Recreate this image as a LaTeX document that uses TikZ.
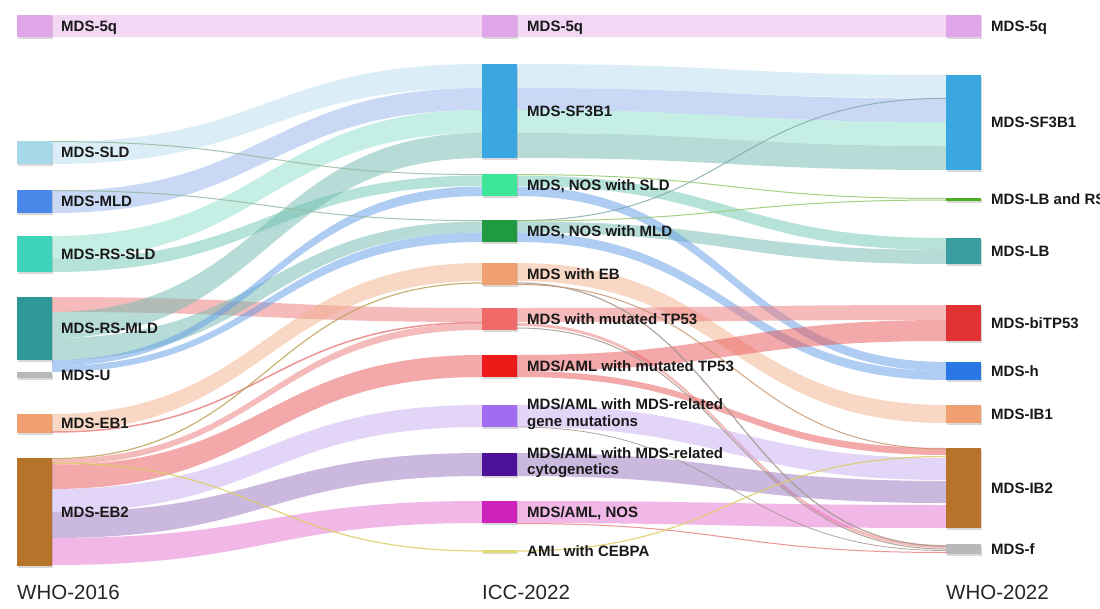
\documentclass[tikz,border=0pt]{standalone}
\usepackage{fontspec}
\setmainfont{Liberation Sans}
\usetikzlibrary{calc,shadows}
\pgfdeclarelayer{flows}
\pgfsetlayers{flows,main}
% flow colours (drawn at half opacity)
\definecolor{c5q}{RGB}{231,179,235}
\definecolor{csld}{RGB}{185,223,241}
\definecolor{cmld}{RGB}{147,179,237}
\definecolor{crss}{RGB}{141,223,203}
\definecolor{crsstwo}{RGB}{110,200,180}
\definecolor{cteal}{RGB}{113,187,177}
\definecolor{cblue}{RGB}{97,155,231}
\definecolor{cpink}{RGB}{237,121,121}
\definecolor{cred}{RGB}{233,85,85}
\definecolor{cpeach}{RGB}{243,179,141}
\definecolor{clav}{RGB}{199,173,241}
\definecolor{cpurp}{RGB}{151,115,193}
\definecolor{cpnos}{RGB}{229,113,209}
% thin line colours
\definecolor{clineone}{RGB}{150,185,160}
\definecolor{clinetwo}{RGB}{130,170,175}
\definecolor{cgreenline}{RGB}{150,200,110}
\definecolor{cgrayline}{RGB}{165,150,140}
\definecolor{cbrownline}{RGB}{200,150,110}
\definecolor{cpinkline}{RGB}{235,130,130}
\definecolor{colive}{RGB}{190,165,90}
\definecolor{cyel}{RGB}{220,205,100}
% node colours
\definecolor{n5q}{RGB}{224,164,232}
\definecolor{nsld}{RGB}{166,216,234}
\definecolor{nmld}{RGB}{74,136,234}
\definecolor{nrss}{RGB}{62,212,188}
\definecolor{nrsm}{RGB}{46,152,152}
\definecolor{ngray}{RGB}{184,184,184}
\definecolor{neb}{RGB}{240,160,112}
\definecolor{nbrown}{RGB}{184,115,42}
\definecolor{nsf}{RGB}{58,166,226}
\definecolor{nns}{RGB}{62,230,154}
\definecolor{nnm}{RGB}{31,154,64}
\definecolor{ntp}{RGB}{240,106,106}
\definecolor{natp}{RGB}{238,26,26}
\definecolor{ngene}{RGB}{160,108,240}
\definecolor{ncyto}{RGB}{78,18,154}
\definecolor{nnos}{RGB}{204,34,187}
\definecolor{nceb}{RGB}{224,220,112}
\definecolor{nlbrs}{RGB}{76,175,32}
\definecolor{nlb}{RGB}{58,158,160}
\definecolor{nbitp}{RGB}{224,50,50}
\definecolor{nh}{RGB}{42,120,230}

\newcommand\sankeyband[7]{%
  \fill[#7,fill opacity=.5] let \p1=(#1.north east),\p2=(#4.north west) in
    (\x1,{\y1-(#2)*1pt})
    .. controls ({0.5*\x1+0.5*\x2},{\y1-(#2)*1pt}) and ({0.5*\x1+0.5*\x2},{\y2-(#5)*1pt}) .. (\x2,{\y2-(#5)*1pt})
    -- (\x2,{\y2-(#6)*1pt})
    .. controls ({0.5*\x1+0.5*\x2},{\y2-(#6)*1pt}) and ({0.5*\x1+0.5*\x2},{\y1-(#3)*1pt}) .. (\x1,{\y1-(#3)*1pt})
    -- cycle;}
\newcommand\sankeyline[6]{%
  \draw[#5,line width=#6,draw opacity=.85] let \p1=(#1.north east),\p2=(#3.north west) in
    (\x1,{\y1-(#2)*1pt})
    .. controls ({0.5*\x1+0.5*\x2},{\y1-(#2)*1pt}) and ({0.5*\x1+0.5*\x2},{\y2-(#4)*1pt}) .. (\x2,{\y2-(#4)*1pt});}

\begin{document}
\begin{tikzpicture}[x=1pt,y=-1pt,
  bar/.style={anchor=north west,inner sep=0pt,outer sep=0pt,minimum width=35pt,draw=none,
    drop shadow={shadow xshift=1pt,shadow yshift=-1.5pt,opacity=.25,fill=black!60}},
  lab/.style={anchor=base west,inner sep=0pt,font=\bfseries\fontsize{15}{14}\selectfont,text=black!90},
  labtwo/.style={anchor=west,inner sep=0pt,align=left,font=\bfseries\fontsize{15}{16.5}\selectfont,text=black!90},
  ttl/.style={anchor=base west,inner sep=0pt,font=\fontsize{20.5}{24}\selectfont,text=black!85}]
\useasboundingbox (0,0) rectangle (1100,608);

% ---------- left column (WHO-2016)
\node[bar,fill=n5q,minimum height=22pt] (L5q) at (17,15) {};
\node[bar,fill=nsld,minimum height=23pt] (Lsld) at (17,141) {};
\node[bar,fill=nmld,minimum height=23pt] (Lmld) at (17,190) {};
\node[bar,fill=nrss,minimum height=36pt] (Lrss) at (17,236) {};
\node[bar,fill=nrsm,minimum height=63pt] (Lrsm) at (17,297) {};
\node[bar,fill=ngray,minimum height=6pt] (Lu) at (17,372) {};
\node[bar,fill=neb,minimum height=19pt] (Leb1) at (17,414) {};
\node[bar,fill=nbrown,minimum height=108pt] (Leb2) at (17,458) {};

% ---------- middle column (ICC-2022)
\node[bar,fill=n5q,minimum height=22pt] (M5q) at (482,15) {};
\node[bar,fill=nsf,minimum height=94pt] (Msf) at (482,64) {};
\node[bar,fill=nns,minimum height=22pt] (Mns) at (482,174) {};
\node[bar,fill=nnm,minimum height=22pt] (Mnm) at (482,220) {};
\node[bar,fill=neb,minimum height=22pt] (Meb) at (482,263) {};
\node[bar,fill=ntp,minimum height=22pt] (Mtp) at (482,308) {};
\node[bar,fill=natp,minimum height=22pt] (Matp) at (482,355) {};
\node[bar,fill=ngene,minimum height=22pt] (Mgene) at (482,405) {};
\node[bar,fill=ncyto,minimum height=23pt] (Mcyto) at (482,453) {};
\node[bar,fill=nnos,minimum height=22pt] (Mnos) at (482,501) {};
\node[bar,fill=nceb,minimum height=2.5pt] (Mceb) at (482,550) {};

% ---------- right column (WHO-2022)
\node[bar,fill=n5q,minimum height=22pt] (R5q) at (946,15) {};
\node[bar,fill=nsf,minimum height=95pt] (Rsf) at (946,75) {};
\node[bar,fill=nlbrs,minimum height=3.5pt] (Rlbrs) at (946,197.5) {};
\node[bar,fill=nlb,minimum height=26pt] (Rlb) at (946,238) {};
\node[bar,fill=nbitp,minimum height=36pt] (Rtp) at (946,305) {};
\node[bar,fill=nh,minimum height=18pt] (Rh) at (946,362) {};
\node[bar,fill=neb,minimum height=18pt] (Rib1) at (946,405) {};
\node[bar,fill=nbrown,minimum height=80pt] (Rib2) at (946,448) {};
\node[bar,fill=ngray,minimum height=10pt] (Rf) at (946,544) {};

\begin{pgfonlayer}{flows}
\fill[white] (0,0) rectangle (1100,608);
% left -> middle
\sankeyband{L5q}{0}{22}{M5q}{0}{22}{c5q}
\sankeyband{Lsld}{1}{23}{Msf}{0}{24}{csld}
\sankeyband{Lmld}{1}{23}{Msf}{24}{46}{cmld}
\sankeyband{Lrss}{0}{23}{Msf}{46}{69}{crss}
\sankeyband{Lrss}{23}{36}{Mns}{1.5}{12}{crsstwo}
\sankeyband{Lrsm}{0}{15}{Mtp}{0}{14}{cpink}
\sankeyband{Lrsm}{15}{41}{Msf}{69}{94}{cteal}
\sankeyband{Lrsm}{41}{63}{Mnm}{1.5}{12.5}{cteal}
\sankeyband{Lu}{-12}{-6}{Mns}{12.5}{22}{cblue}
\sankeyband{Lu}{-6}{0}{Mnm}{12.5}{22}{cblue}
\sankeyband{Leb1}{0}{17}{Meb}{0}{18}{cpeach}
\sankeyband{Leb2}{1}{7}{Mtp}{15}{22}{cpink}
\sankeyband{Leb2}{7}{31}{Matp}{0}{22}{cred}
\sankeyband{Leb2}{31}{54}{Mgene}{0}{22}{clav}
\sankeyband{Leb2}{54}{80}{Mcyto}{0}{23}{cpurp}
\sankeyband{Leb2}{80}{107}{Mnos}{0}{22}{cpnos}
\sankeyline{Lsld}{0.6}{Mns}{0.6}{clineone}{1pt}
\sankeyline{Lmld}{0.6}{Mnm}{0.6}{clineone}{1pt}
\sankeyline{Leb1}{18}{Mtp}{14.5}{cpinkline}{1.5pt}
\sankeyline{Leb2}{0.6}{Meb}{20}{colive}{1.2pt}
\sankeyline{Leb2}{5}{Mceb}{1}{cyel}{1.2pt}
% middle -> right
\sankeyband{M5q}{0}{22}{R5q}{0}{22}{c5q}
\sankeyband{Msf}{0}{24}{Rsf}{0}{23}{csld}
\sankeyband{Msf}{24}{46}{Rsf}{23.5}{47}{cmld}
\sankeyband{Msf}{46}{69}{Rsf}{47}{71}{crss}
\sankeyband{Msf}{69}{94}{Rsf}{71}{95}{cteal}
\sankeyband{Mns}{1.5}{12}{Rlb}{0}{12}{crsstwo}
\sankeyband{Mnm}{1.5}{12.5}{Rlb}{12}{26}{cteal}
\sankeyband{Mns}{12.5}{22}{Rh}{0}{9}{cblue}
\sankeyband{Mnm}{12.5}{22}{Rh}{9}{18}{cblue}
\sankeyband{Meb}{0}{18}{Rib1}{0}{18}{cpeach}
\sankeyband{Mtp}{0}{14}{Rtp}{0}{15}{cpink}
\sankeyband{Mtp}{15}{18}{Rf}{1}{4}{cpink}
\sankeyband{Matp}{0}{16}{Rtp}{15}{36}{cred}
\sankeyband{Matp}{16}{22}{Rib2}{0}{7}{cred}
\sankeyband{Mgene}{0}{22}{Rib2}{10}{32}{clav}
\sankeyband{Mcyto}{0}{23}{Rib2}{33}{55}{cpurp}
\sankeyband{Mnos}{0}{22}{Rib2}{57}{80}{cpnos}
\sankeyline{Mnm}{0.6}{Rsf}{23.3}{clinetwo}{1pt}
\sankeyline{Mns}{0.6}{Rlbrs}{1}{cgreenline}{1pt}
\sankeyline{Mnm}{1}{Rlbrs}{2.5}{cgreenline}{1pt}
\sankeyline{Meb}{20}{Rf}{2}{cgrayline}{1.2pt}
\sankeyline{Meb}{21.5}{Rib2}{1}{cbrownline}{1pt}
\sankeyline{Mtp}{20}{Rf}{5}{cgrayline}{1pt}
\sankeyline{Mgene}{22}{Rf}{6.5}{cgrayline}{0.8pt}
\sankeyline{Mnos}{22.5}{Rf}{8.5}{cpinkline}{1pt}
\sankeyline{Mceb}{1}{Rib2}{8.5}{cyel}{1.2pt}
\end{pgfonlayer}

% ---------- labels
\node[lab] (L5q-t) at ($(L5q.east)+(9,5.4)$) {MDS-5q};
\node[lab] (Lsld-t) at ($(Lsld.east)+(9,5.4)$) {MDS-SLD};
\node[lab] (Lmld-t) at ($(Lmld.east)+(9,5.4)$) {MDS-MLD};
\node[lab] (Lrss-t) at ($(Lrss.east)+(9,5.4)$) {MDS-RS-SLD};
\node[lab] (Lrsm-t) at ($(Lrsm.east)+(9,5.4)$) {MDS-RS-MLD};
\node[lab] (Lu-t) at ($(Lu.east)+(9,5.4)$) {MDS-U};
\node[lab] (Leb1-t) at ($(Leb1.east)+(9,5.4)$) {MDS-EB1};
\node[lab] (Leb2-t) at ($(Leb2.east)+(9,5.4)$) {MDS-EB2};

\node[lab] (M5q-t) at ($(M5q.east)+(10,5.4)$) {MDS-5q};
\node[lab] (Msf-t) at ($(Msf.east)+(10,5.4)$) {MDS-SF3B1};
\node[lab] (Mns-t) at ($(Mns.east)+(10,5.4)$) {MDS, NOS with SLD};
\node[lab] (Mnm-t) at ($(Mnm.east)+(10,5.4)$) {MDS, NOS with MLD};
\node[lab] (Meb-t) at ($(Meb.east)+(10,5.4)$) {MDS with EB};
\node[lab] (Mtp-t) at ($(Mtp.east)+(10,5.4)$) {MDS with mutated TP53};
\node[lab] (Matp-t) at ($(Matp.east)+(10,5.4)$) {MDS/AML with mutated TP53};
\node[labtwo] (Mgene-t) at ($(Mgene.east)+(10,-2)$) {MDS/AML with MDS-related\\gene mutations};
\node[labtwo] (Mcyto-t) at ($(Mcyto.east)+(10,-2)$) {MDS/AML with MDS-related\\cytogenetics};
\node[lab] (Mnos-t) at ($(Mnos.east)+(10,5.4)$) {MDS/AML, NOS};
\node[lab] (Mceb-t) at ($(Mceb.east)+(10,5.4)$) {AML with CEBPA};

\node[lab] (R5q-t) at ($(R5q.east)+(10,5.4)$) {MDS-5q};
\node[lab] (Rsf-t) at ($(Rsf.east)+(10,5.4)$) {MDS-SF3B1};
\node[lab] (Rlbrs-t) at ($(Rlbrs.east)+(10,5.4)$) {MDS-LB and RS};
\node[lab] (Rlb-t) at ($(Rlb.east)+(10,5.4)$) {MDS-LB};
\node[lab] (Rtp-t) at ($(Rtp.east)+(10,5.4)$) {MDS-biTP53};
\node[lab] (Rh-t) at ($(Rh.east)+(10,5.4)$) {MDS-h};
\node[lab] (Rib1-t) at ($(Rib1.east)+(10,5.4)$) {MDS-IB1};
\node[lab] (Rib2-t) at ($(Rib2.east)+(10,5.4)$) {MDS-IB2};
\node[lab] (Rf-t) at ($(Rf.east)+(10,5.4)$) {MDS-f};

% ---------- column titles
\node[ttl] (T1) at (17,599) {WHO-2016};
\node[ttl] (T2) at (482,599) {ICC-2022};
\node[ttl] (T3) at (946,599) {WHO-2022};
\end{tikzpicture}
\end{document}
